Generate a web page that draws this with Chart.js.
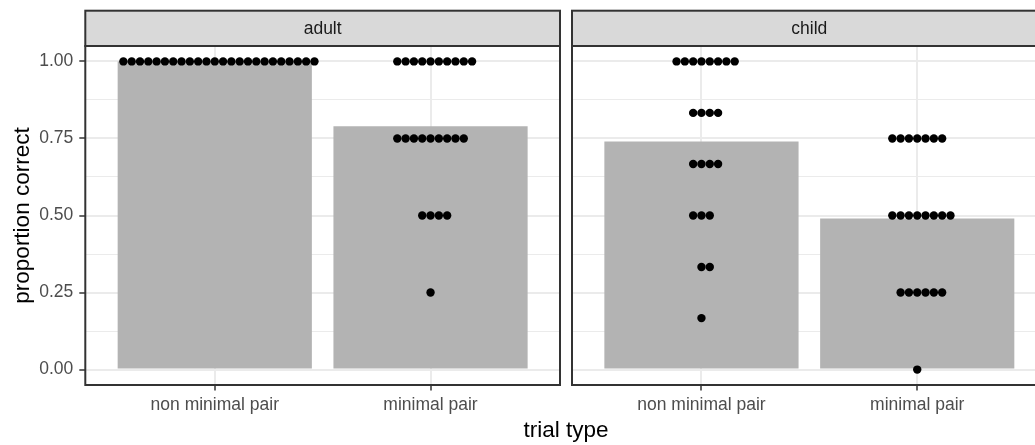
<!DOCTYPE html>
<html lang="en">
<head>
  <meta charset="UTF-8" />
  <title>proportion correct by trial type</title>
  <script src="https://cdn.jsdelivr.net/npm/chart.js@4.4.0/dist/chart.umd.min.js"></script>
  <style>
    html, body { margin: 0; padding: 0; background: #fff; overflow: hidden; }
    body {
      width: 1035px; height: 445px; position: relative;
      font-family: "Liberation Sans", Arial, sans-serif;
    }
    .panel { position: absolute; top: 0; height: 445px; }
    #left  { left: 0;     width: 565px; }
    #right { left: 560px; width: 495px; }   /* right facet runs past the window edge, like the original */
    #xtitle {
      position: absolute; left: 85px; width: 962px; top: 417px;
      text-align: center; font-size: 22.5px; line-height: 26px; color: #000;
    }
  </style>
</head>
<body>
  <div class="panel" id="left"><canvas id="cAdult"></canvas></div>
  <div class="panel" id="right"><canvas id="cChild"></canvas></div>
  <div id="xtitle">trial type</div>

  <script>
    /* ---------- data ---------- */
    var categories = ["non minimal pair", "minimal pair"];
    var panels     = ["adult", "child"];

    // bar heights = mean proportion correct
    var adultBars = [1.00, 0.79];
    var childBars = [0.74, 0.49];

    // dot stacks: proportion level + number of participants at that level
    var adultNonMinLevels = [1.00];
    var adultNonMinCounts = [24];
    var adultMinLevels    = [1.00, 0.75, 0.50, 0.25];
    var adultMinCounts    = [10, 9, 4, 1];

    var childNonMinLevels = [1.00, 0.833, 0.667, 0.50, 0.333, 0.167];
    var childNonMinCounts = [8, 4, 4, 3, 2, 1];
    var childMinLevels    = [0.75, 0.50, 0.25, 0.00];
    var childMinCounts    = [7, 8, 6, 1];

    var yTicks      = [0, 0.25, 0.50, 0.75, 1.00];
    var yMinorTicks = [0.125, 0.375, 0.625, 0.875];

    /* ---------- look ---------- */
    var FONT = '"Liberation Sans", Arial, sans-serif';
    var DOT_STEP = 0.0385;   // horizontal spacing of stacked dots, in x units
    var STRIP_TOP = 10.7;

    // ggplot "centerwhole" style stacking around the category centre
    function stackDots(levels, counts, xCenter) {
      var pts = [];
      levels.forEach(function (lv, k) {
        var n = counts[k];
        var first = Math.floor((n - 1) / 2);
        for (var i = 0; i < n; i++) {
          pts.push({ x: xCenter + (i - first) * DOT_STEP, y: lv });
        }
      });
      return pts;
    }

    function isMajor(v) {
      return yTicks.some(function (t) { return Math.abs(t - v) < 1e-6; });
    }

    /* strip on top + dark panel border */
    var facetFrame = {
      id: "facetFrame",
      afterDraw: function (chart, args, opts) {
        var a = chart.chartArea, ctx = chart.ctx;
        ctx.save();
        ctx.fillStyle = "#d9d9d9";
        ctx.fillRect(a.left, STRIP_TOP, a.right - a.left, a.top - STRIP_TOP);
        ctx.strokeStyle = "#333333";
        ctx.lineWidth = 2;
        ctx.strokeRect(a.left, STRIP_TOP, a.right - a.left, a.top - STRIP_TOP);
        ctx.strokeRect(a.left, a.top, a.right - a.left, a.bottom - a.top);
        ctx.fillStyle = "#1a1a1a";
        ctx.font = "17.5px " + FONT;
        ctx.textAlign = "center";
        ctx.textBaseline = "middle";
        ctx.fillText(opts.label, (a.left + a.right) / 2, (STRIP_TOP + a.top) / 2 + 1);
        ctx.restore();
      }
    };

    function makePanel(canvasId, label, bars, dots, showY, pad) {
      new Chart(document.getElementById(canvasId), {
        type: "bar",
        data: {
          datasets: [
            {
              type: "scatter",
              data: dots,
              backgroundColor: "#000000",
              borderWidth: 0,
              pointRadius: 4.2,
              order: 0
            },
            {
              type: "bar",
              data: bars.map(function (v, i) { return { x: i + 1, y: v }; }),
              backgroundColor: "#b3b3b3",
              borderWidth: 0,
              barPercentage: 0.9,
              categoryPercentage: 1,
              order: 1
            }
          ]
        },
        options: {
          responsive: true,
          maintainAspectRatio: false,
          animation: false,
          events: [],
          layout: { padding: pad },
          plugins: {
            legend: { display: false },
            tooltip: { enabled: false },
            facetFrame: { label: label }
          },
          scales: {
            x: {
              type: "linear",
              min: 0.4, max: 2.6,
              offset: false,
              afterBuildTicks: function (s) {
                s.ticks = categories.map(function (c, i) { return { value: i + 1 }; });
              },
              afterFit: function (s) { s.height = 60; },
              border: { display: false },
              grid: {
                offset: false,
                color: "#ebebeb", lineWidth: 2,
                tickColor: "#333333", tickWidth: 1.5, tickLength: 5.5
              },
              ticks: {
                autoSkip: false, maxRotation: 0, padding: 4,
                color: "#4d4d4d",
                font: { size: 17.5, family: FONT },
                callback: function (v) { return categories[Math.round(v) - 1]; }
              }
            },
            y: {
              min: -0.05, max: 1.05,
              afterBuildTicks: function (s) {
                s.ticks = yTicks.concat(yMinorTicks)
                  .sort(function (a, b) { return a - b; })
                  .map(function (v) { return { value: v }; });
              },
              afterFit: function (s) { s.width = showY ? 85.3 : 0; },
              border: { display: false },
              grid: {
                color: "#ebebeb",
                lineWidth: function (c) { return c.tick && isMajor(c.tick.value) ? 2 : 1; },
                drawTicks: showY,
                tickColor: function (c) { return c.tick && isMajor(c.tick.value) ? "#333333" : "rgba(0,0,0,0)"; },
                tickWidth: 1.5,
                tickLength: 6
              },
              ticks: {
                display: showY,
                padding: 6,
                color: "#4d4d4d",
                font: { size: 17.5, family: FONT },
                callback: function (v) { return isMajor(v) ? v.toFixed(2) : ""; }
              },
              title: {
                display: showY,
                text: "proportion correct",
                color: "#000000",
                font: { size: 22.5, family: FONT },
                padding: { top: 9, bottom: 0 }
              }
            }
          }
        },
        plugins: [facetFrame]
      });
    }

    makePanel("cAdult", panels[0], adultBars,
      stackDots(adultNonMinLevels, adultNonMinCounts, 1)
        .concat(stackDots(adultMinLevels, adultMinCounts, 2)),
      true, { top: 46, right: 5, bottom: 0, left: 0 });

    makePanel("cChild", panels[1], childBars,
      stackDots(childNonMinLevels, childNonMinCounts, 1)
        .concat(stackDots(childMinLevels, childMinCounts, 2)),
      false, { top: 46, right: 8.3, bottom: 0, left: 12 });
  </script>
</body>
</html>
